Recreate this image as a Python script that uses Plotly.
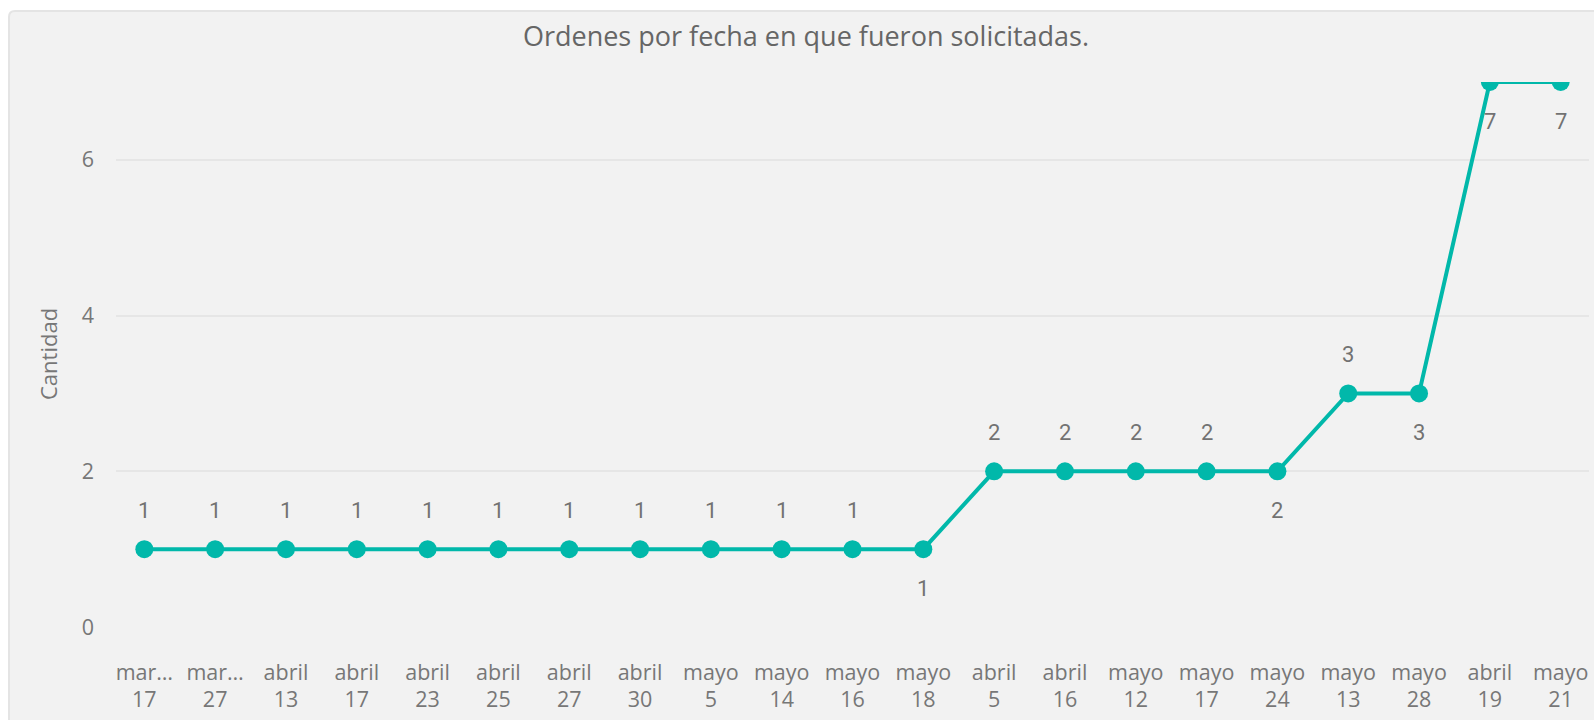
import plotly.graph_objects as go

categories = [
    "mar…<br>17", "mar…<br>27", "abril<br>13", "abril<br>17", "abril<br>23",
    "abril<br>25", "abril<br>27", "abril<br>30", "mayo<br>5", "mayo<br>14",
    "mayo<br>16", "mayo<br>18", "abril<br>5", "abril<br>16", "mayo<br>12",
    "mayo<br>17", "mayo<br>24", "mayo<br>13", "mayo<br>28", "abril<br>19",
    "mayo<br>21",
]
cantidad = [1, 1, 1, 1, 1, 1, 1, 1, 1, 1, 1, 1, 2, 2, 2, 2, 2, 3, 3, 7, 7]
label_side = ["top"] * 11 + ["bottom"] + ["top"] * 4 + ["bottom", "top", "bottom", "bottom", "bottom"]
y_ticks = [0, 2, 4, 6]

W, H = 1594, 720
ML, MR, MT, MB = 116, 5, 82, 93
PW, PH = W - ML - MR, H - MT - MB

def px_x(p):
    return (p - ML) / PW

def px_y(p):
    return (H - MB - p) / PH

TEAL = "#01B8AA"
GREY = "#777777"

fig = go.Figure()
fig.add_trace(go.Scatter(
    x=categories, y=cantidad, mode="lines+markers",
    line=dict(color=TEAL, width=4),
    marker=dict(color=TEAL, size=18),
    cliponaxis=True, hoverinfo="x+y",
))

for c, v, s in zip(categories, cantidad, label_side):
    fig.add_annotation(
        x=c, y=v, text=str(v), showarrow=False,
        yshift=39 if s == "top" else -39,
        font=dict(family="Roboto", size=22, color="#727272"),
    )

# y-axis title
fig.add_annotation(
    xref="paper", yref="paper", x=px_x(30.5), y=0.5, text="Cantidad",
    textangle=-90, showarrow=False,
    font=dict(family="Open Sans", size=22, color=GREY),
)

# card background
x0, x1 = px_x(9), px_x(1610)
yt, yb = px_y(11), px_y(740)
dx, dy = 6 / PW, 6 / PH
path = (f"M {x0},{yb} L {x0},{yt - dy} Q {x0},{yt} {x0 + dx},{yt} "
        f"L {x1},{yt} L {x1},{yb} Z")
fig.add_shape(type="path", xref="paper", yref="paper", path=path,
              fillcolor="#f2f2f2", line=dict(color="#e4e4e4", width=2),
              layer="below")

fig.update_layout(
    width=W, height=H,
    margin=dict(l=ML, r=MR, t=MT, b=MB, pad=0, autoexpand=False),
    paper_bgcolor="white", plot_bgcolor="rgba(0,0,0,0)",
    showlegend=False,
    title=dict(text="Ordenes por fecha en que fueron solicitadas.",
               x=806 / W, xanchor="center", y=1 - 36.6 / H, yanchor="middle",
               yref="container", xref="container",
               font=dict(family="Open Sans", size=27, color="#666666")),
    font=dict(family="Open Sans", color=GREY),
    xaxis=dict(type="category", range=[-0.4, len(categories) - 0.6],
               showgrid=False, zeroline=False, showline=False,
               tickfont=dict(family="Open Sans", size=21.5, color=GREY),
               ticklabelstandoff=30, tickangle=0),
    yaxis=dict(range=[0, 7], tickvals=y_ticks, showgrid=True,
               gridcolor="#e6e6e6", gridwidth=2, zeroline=False,
               showline=False,
               tickfont=dict(family="Open Sans", size=21.5, color=GREY),
               ticklabelstandoff=21),
)

fig.write_html(
    "out.html",
    config={"displayModeBar": False},
    post_script=("document.body.style.margin='0';"
                 "document.documentElement.style.overflow='hidden';"),
)
